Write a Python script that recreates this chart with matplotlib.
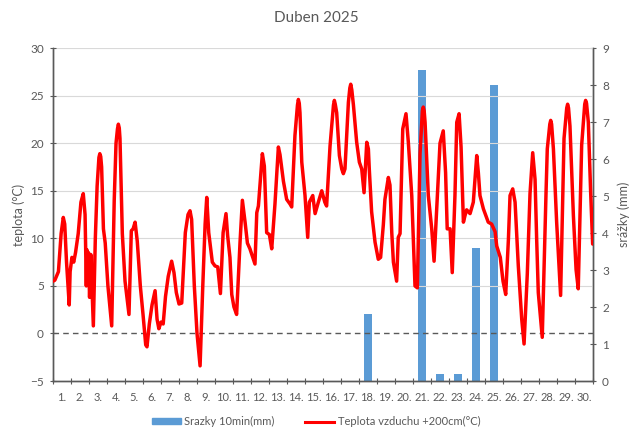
import matplotlib

matplotlib.use("Agg")

import matplotlib.pyplot as plt
from matplotlib.lines import Line2D
from matplotlib.patches import Patch

plt.rcParams["font.family"] = ["Lato", "DejaVu Sans"]

TXT = "#595959"
GRID = "#d9d9d9"
BAR = "#5b9bd5"
LINE = "#ff0000"

title = "Duben 2025"
day_labels = [f"{d}." for d in range(1, 31)]

# precipitation per day (mm), days 1..30
rain_mm = [0, 0, 0, 0, 0, 0, 0, 0, 0, 0,
           0, 0, 0, 0, 0, 0, 0, 1.8, 0, 0,
           8.4, 0.2, 0.2, 3.6, 8.0, 0, 0, 0, 0, 0]

# air temperature at 200 cm: time in days since 1.4. 00:00, value in degC
temp_time = [
    0.00, 0.10, 0.30, 0.45, 0.57, 0.65, 0.75, 0.90, 0.95,
    1.05, 1.15, 1.25, 1.40, 1.55, 1.68, 1.78, 1.85, 1.88, 1.93, 1.97, 2.03, 2.10, 2.16, 2.24,
    2.35, 2.45, 2.55, 2.60, 2.65, 2.70, 2.80, 2.90, 3.05, 3.26,
    3.40, 3.50, 3.58, 3.63, 3.68, 3.72, 3.85, 4.00, 4.22,
    4.35, 4.45, 4.56, 4.68, 4.85, 5.00, 5.15, 5.22,
    5.35, 5.50, 5.67, 5.78, 5.88, 6.00, 6.12,
    6.25, 6.40, 6.59, 6.72, 6.85, 7.00, 7.15,
    7.35, 7.50, 7.61, 7.70, 7.85, 8.00, 8.17,
    8.32, 8.45, 8.54, 8.65, 8.85, 9.00, 9.15, 9.30,
    9.45, 9.61, 9.70, 9.83, 9.93, 10.05, 10.20,
    10.39, 10.52, 10.67, 10.80, 10.94, 11.13, 11.22,
    11.32, 11.41, 11.63, 11.74, 11.87, 12.02, 12.15,
    12.33, 12.52, 12.61, 12.80, 12.98, 13.17, 13.26,
    13.44, 13.58, 13.63, 13.68, 13.72, 13.82, 14.00, 14.15,
    14.24, 14.43, 14.56, 14.74, 14.93, 15.10, 15.20,
    15.39, 15.58, 15.63, 15.68, 15.76, 15.91, 16.04, 16.13, 16.22,
    16.41, 16.49, 16.54, 16.60, 16.69, 16.87, 17.02, 17.15, 17.28, 17.43, 17.52, 17.57,
    17.70, 17.89, 18.07, 18.20,
    18.35, 18.44, 18.63, 18.72, 18.82, 18.91, 19.09,
    19.18, 19.28, 19.43, 19.61, 19.74, 19.93, 20.11, 20.24,
    20.39, 20.52, 20.57, 20.62, 20.67, 20.85, 21.04, 21.17,
    21.41, 21.50, 21.68, 21.81, 21.90, 22.06, 22.18,
    22.33, 22.43, 22.56, 22.67, 22.80, 22.89, 22.98, 23.17, 23.35,
    23.54, 23.63, 23.72, 23.91, 24.18, 24.37, 24.56, 24.65, 24.85, 25.00, 25.15,
    25.30, 25.39, 25.54, 25.67, 25.85, 26.04, 26.17,
    26.35, 26.50, 26.65, 26.78, 26.87, 26.96, 27.06, 27.18,
    27.39, 27.46, 27.60, 27.65, 27.70, 27.80, 27.98, 28.13, 28.20,
    28.39, 28.54, 28.59, 28.64, 28.72, 28.91, 29.06, 29.18,
    29.37, 29.54, 29.59, 29.64, 29.74, 29.87, 29.98,
]
temp_val = [
    5.5, 5.6, 6.5, 10.5, 12.2, 11.5, 7.5, 3.0, 6.5,
    8.0, 7.5, 8.5, 10.5, 13.8, 14.7, 12.5, 5.0, 8.8, 5.5, 8.5, 3.8, 8.3, 5.0, 0.8,
    10.0, 15.5, 18.5, 18.9, 18.6, 17.5, 11.0, 9.5, 5.0, 0.8,
    14.0, 20.0, 21.5, 22.0, 21.6, 20.5, 10.5, 5.5, 2.0,
    10.8, 11.0, 11.7, 9.7, 5.0, 2.0, -1.2, -1.4,
    1.0, 3.0, 4.5, 1.5, 0.5, 1.2, 1.0,
    3.9, 6.0, 7.6, 6.4, 4.3, 3.1, 3.2,
    10.6, 12.5, 12.9, 12.0, 5.0, 0.0, -3.4,
    5.0, 11.5, 14.3, 10.6, 7.5, 7.1, 7.0, 4.2,
    10.6, 12.6, 10.3, 8.0, 4.1, 2.8, 2.0,
    9.6, 14.0, 11.7, 9.5, 8.9, 7.8, 7.3,
    12.7, 13.4, 18.9, 17.6, 10.6, 10.4, 8.9,
    13.6, 19.6, 18.8, 16.0, 14.1, 13.6, 13.3,
    20.8, 24.0, 24.6, 24.2, 23.2, 18.0, 14.5, 10.1,
    13.8, 14.5, 12.6, 13.8, 15.0, 13.8, 13.4,
    19.7, 24.0, 24.5, 24.1, 23.2, 18.7, 17.3, 16.8, 17.3,
    24.3, 25.8, 26.2, 25.6, 24.0, 20.1, 18.0, 17.3, 14.8, 20.1, 19.4, 17.3,
    12.8, 9.6, 7.8, 8.0,
    11.4, 14.1, 16.4, 15.6, 10.6, 7.5, 5.5,
    10.1, 10.5, 21.5, 23.1, 20.1, 14.5, 5.0, 4.8,
    18.9, 23.4, 23.8, 23.4, 22.2, 14.5, 11.0, 7.6,
    16.5, 20.0, 21.3, 16.9, 11.0, 11.0, 6.4,
    14.5, 22.2, 23.1, 19.6, 11.7, 12.4, 13.0, 12.6, 13.8,
    18.7, 16.9, 14.5, 13.1, 11.7, 11.5, 10.7, 9.2, 8.0, 5.5, 4.1,
    9.9, 14.5, 15.2, 13.8, 7.1, 1.5, -1.1,
    6.3, 14.7, 19.0, 16.2, 9.9, 4.3, 2.2, -0.4,
    14.8, 19.4, 22.0, 22.4, 22.0, 19.4, 11.7, 6.4, 4.0,
    20.5, 23.7, 24.1, 23.7, 21.8, 12.4, 6.7, 4.7,
    19.8, 24.1, 24.5, 24.2, 22.2, 14.8, 9.4,
]

fig = plt.figure(figsize=(6.32, 4.37), dpi=100, facecolor="white")
ax = fig.add_axes([0.0839, 0.128, 0.8544, 0.762])
ax2 = ax.twinx()
ax.set_zorder(ax2.get_zorder() + 1)
ax.patch.set_visible(False)

# bars (right axis)
bar_x = [d - 0.5 for d in range(1, 31)]
ax2.bar(bar_x, rain_mm, width=0.42, color=BAR, zorder=2)
ax2.set_ylim(0, 9)
ax2.set_yticks(range(0, 10))
ax2.set_ylabel("srážky (mm)", color=TXT, fontsize=9, labelpad=6)

# temperature (left axis)
ax.set_ylim(-5, 30)
ax.set_yticks(range(-5, 31, 5))
for y in range(5, 31, 5):
    ax.axhline(y, color=GRID, linewidth=0.8, zorder=0)
ax.axhline(0, color=TXT, linewidth=1.0, linestyle=(0, (4, 3)), zorder=1)
ax.plot(temp_time, temp_val, color=LINE, linewidth=2.5, solid_joinstyle="round",
        solid_capstyle="round", zorder=3)
ax.set_ylabel("teplota (°C)", color=TXT, fontsize=9, labelpad=4)

ax.set_xlim(0, 30)
ax.set_xticks(range(0, 31))
ax.set_xticklabels([])
ax.set_xticks(bar_x, minor=True)
ax.set_xticklabels(day_labels, minor=True)
ax.tick_params(axis="x", which="major", direction="inout", length=5, color=TXT)
ax.tick_params(axis="x", which="minor", length=0, labelsize=8, labelcolor=TXT, pad=8)
ax.tick_params(axis="y", direction="inout", length=5, color=TXT, labelsize=8.5, labelcolor=TXT, pad=4)
ax2.tick_params(axis="y", direction="inout", length=5, color=TXT, labelsize=8.5, labelcolor=TXT, pad=4)

for a in (ax, ax2):
    a.spines["top"].set_visible(False)
    for s in ("left", "right", "bottom"):
        a.spines[s].set_color(TXT)
        a.spines[s].set_linewidth(1.0)

fig.suptitle(title, x=0.5, y=0.975, fontsize=11, color=TXT)

handles = [Patch(facecolor=BAR, edgecolor=BAR),
           Line2D([0], [0], color=LINE, linewidth=2.2)]
labels = ["Srazky 10min(mm)", "Teplota vzduchu +200cm(°C)"]
fig.legend(handles, labels, loc="center", bbox_to_anchor=(0.5, 0.035), ncol=2, frameon=False,
           fontsize=8, labelcolor=TXT, handlelength=2.6, handleheight=0.5, handletextpad=0.3,
           columnspacing=2.8)

fig.savefig("out.png", dpi=100, facecolor="white")
